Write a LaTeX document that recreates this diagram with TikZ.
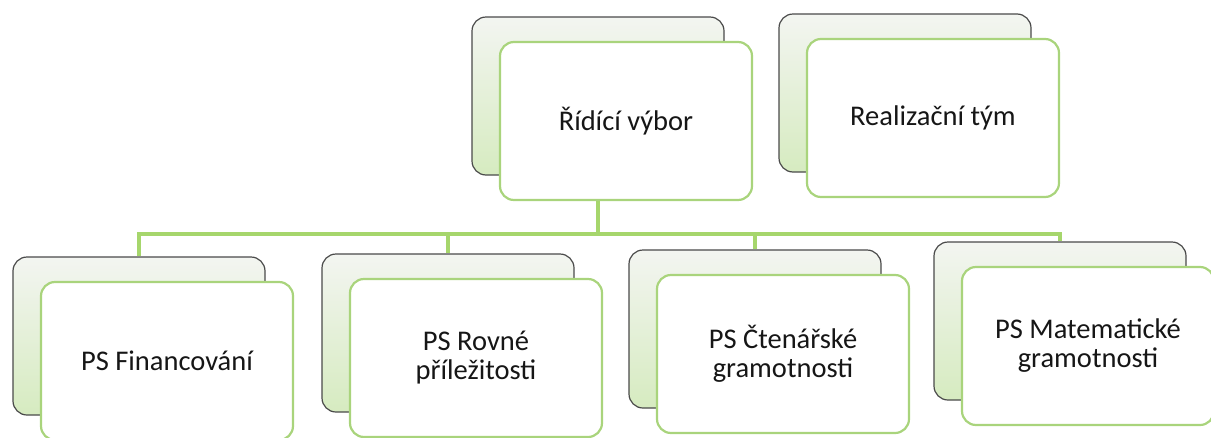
\documentclass[tikz,border=0pt]{standalone}
\usepackage{fontspec}
\setmainfont{Carlito}
\usetikzlibrary{backgrounds,calc}
\definecolor{conngreen}{HTML}{A6D66C}
\definecolor{framegreen}{HTML}{A9D47C}
\definecolor{backtop}{HTML}{F3F5F1}
\definecolor{backbot}{HTML}{D6EBC0}
\definecolor{backedge}{HTML}{4A4A4A}
\definecolor{txt}{HTML}{161616}
\tikzset{
  backbox/.style={draw=backedge, line width=1.2pt, rounded corners=14pt,
    top color=backtop, bottom color=backbot,
    minimum width=252pt, minimum height=158pt, inner sep=0pt},
  frontbox/.style={draw=framegreen, line width=2.2pt, rounded corners=14pt,
    fill=white, minimum width=252pt, minimum height=158pt, inner sep=4pt,
    align=center, text=txt, font=\fontsize{28.5}{29}\selectfont},
  conn/.style={draw=conngreen, line width=4pt}
}
\newcommand\orgpair[4]{%
  \node[backbox] (#1b) at (#2,#3) {};
  \node[frontbox] (#1) at ({#2+28},{#3+25}) {#4};}
\begin{document}
\begin{tikzpicture}[x=1pt,y=-1pt]
\useasboundingbox (0,0) rectangle (1211,437);
\orgpair{rv}{598}{96}{Řídící výbor}
\orgpair{rt}{905}{93}{Realizační tým}
\orgpair{fin}{139}{336}{PS Financování}
\orgpair{rov}{448}{333}{PS Rovné\\příležitosti}
\orgpair{cte}{755}{329}{PS Čtenářské\\gramotnosti}
\orgpair{mat}{1060}{321}{PS Matematické\\gramotnosti}
\coordinate (bus) at (598,234);
\begin{scope}[on background layer]
  \draw[conn] (rvb.south) -- (bus);
  \draw[conn] (bus) -| (finb.north);
  \draw[conn] (bus) -| (rovb.north);
  \draw[conn] (bus) -| (cteb.north);
  \draw[conn] (bus) -| (matb.north);
\end{scope}
\end{tikzpicture}
\end{document}
